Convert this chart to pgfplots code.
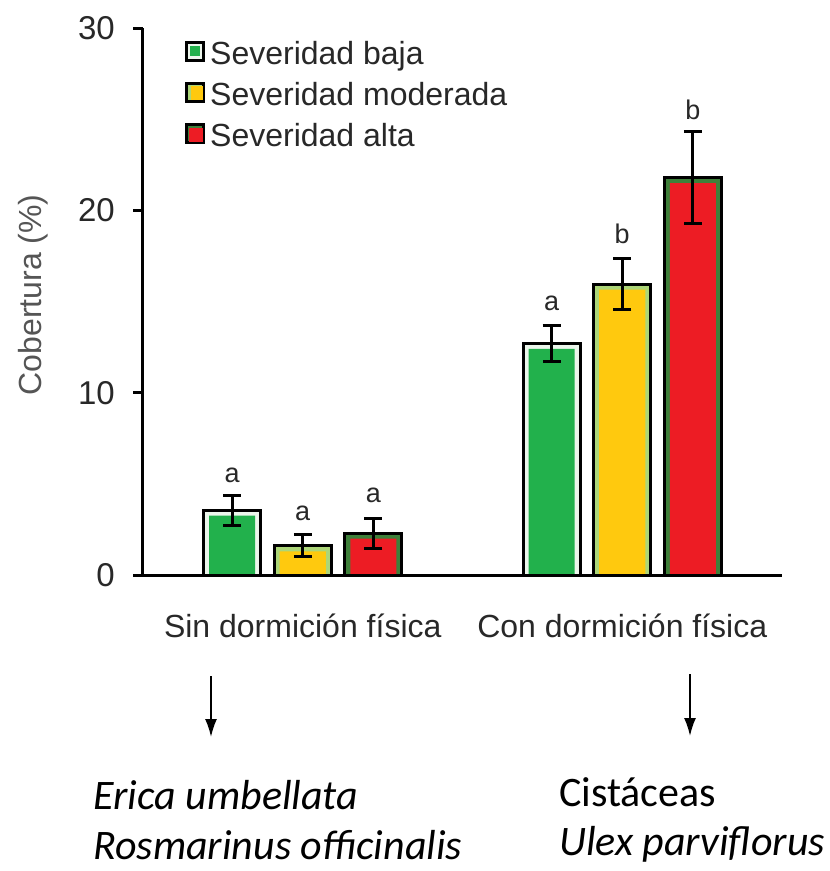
\documentclass[border=0pt]{standalone}
\usepackage{fontspec}
\setmainfont{Liberation Sans}
\newfontfamily\carlito{Carlito}
\usepackage{pgfplots}
\pgfplotsset{compat=1.18}
\usetikzlibrary{arrows.meta}
\definecolor{gFill}{RGB}{34,177,76}
\definecolor{gInner}{RGB}{236,246,236}
\definecolor{yFill}{RGB}{255,201,14}
\definecolor{yInner}{RGB}{172,214,120}
\definecolor{rFill}{RGB}{237,28,36}
\definecolor{rInner}{RGB}{62,128,58}
\definecolor{txtdark}{RGB}{40,40,40}
\definecolor{txtgray}{RGB}{85,85,85}
\begin{document}
\begin{tikzpicture}
\useasboundingbox (0pt,0pt) rectangle (830pt,-871pt);
\begin{axis}[
  at={(143pt,-575pt)}, anchor=south west,
  scale only axis, width=639pt, height=547pt,
  xmin=-0.5, xmax=1.5, ymin=0, ymax=30,
  axis x line*=bottom, axis y line*=left,
  axis line style={line width=3pt, black},
  axis on top,
  xtick={0,1}, xticklabels={Sin dormición física, Con dormición física},
  xtick style={draw=none},
  ytick={0,10,20,30},
  ytick style={line width=3pt, black},
  major tick length=10pt, tick align=outside,
  /pgf/number format/assume math mode=true,
  xticklabel style={font=\fontsize{32}{38}\selectfont, anchor=base, inner sep=0pt, yshift=-52pt, text=txtdark},
  yticklabel style={font=\fontsize{33}{38}\selectfont, anchor=east, inner sep=0pt, xshift=-18pt, text=txtdark},
  ylabel={Cobertura (\%)},
  every axis y label/.style={at={(rel axis cs:-0.172,0.512)}, rotate=90, anchor=center, font=\fontsize{32}{38}\selectfont, text=txtgray},
  legend cell align=left,
  legend style={draw=none, fill=none, at={(rel axis cs:0,1)}, anchor=north west, xshift=42pt, yshift=-13pt, inner sep=0pt, row sep=11pt, font=\fontsize{32}{38}\selectfont, text=txtdark, nodes={inner sep=0pt, text height=23pt, text depth=7pt}},
]
% outer bars (with inner border colour)
\addplot[ybar, bar width=0.178, bar shift=0pt, draw=black, line width=3pt, fill=gInner,
  legend image code/.code={\draw[black, line width=3pt, fill=gInner] (1.5pt,-4.5pt) rectangle (18.5pt,13.5pt); \fill[gFill] (6pt,2pt) rectangle (13pt,9pt); \path[draw=none,fill=none] (0pt,0pt) -- (25pt,0pt);}]
  coordinates {(-0.221,3.56) (0.779,12.7)};
\addlegendentry{Severidad baja}
\addplot[ybar, bar width=0.178, bar shift=0pt, draw=black, line width=3pt, fill=yInner,
  legend image code/.code={\draw[black, line width=3pt, fill=yInner] (1.5pt,-4.5pt) rectangle (18.5pt,13.5pt); \fill[yFill] (7pt,-1pt) rectangle (16pt,10pt); \path[draw=none,fill=none] (0pt,0pt) -- (25pt,0pt);}]
  coordinates {(0,1.6) (1,15.95)};
\addlegendentry{Severidad moderada}
\addplot[ybar, bar width=0.178, bar shift=0pt, draw=black, line width=3pt, fill=rInner,
  legend image code/.code={\draw[black, line width=3pt, fill=rInner] (1.5pt,-4.5pt) rectangle (18.5pt,13.5pt); \fill[rFill] (5pt,-2pt) rectangle (16pt,9pt); \path[draw=none,fill=none] (0pt,0pt) -- (25pt,0pt);}]
  coordinates {(0.221,2.3) (1.221,21.8)};
\addlegendentry{Severidad alta}
% inner fills
\addplot[ybar, forget plot, bar width=0.144, bar shift=0pt, draw=none, fill=gFill, yshift=-5.5pt]
  coordinates {(-0.221,3.56) (0.779,12.7)};
\addplot[ybar, forget plot, bar width=0.144, bar shift=0pt, draw=none, fill=yFill, yshift=-5.5pt]
  coordinates {(0,1.6) (1,15.95)};
\addplot[ybar, forget plot, bar width=0.144, bar shift=0pt, draw=none, fill=rFill, yshift=-5.5pt]
  coordinates {(0.221,2.3) (1.221,21.8)};
% error bars
\addplot[forget plot, draw=none, mark=none,
  error bars/.cd, y dir=both, y explicit,
  error bar style={draw=black, line width=3pt},
  error mark options={rotate=90, mark size=9pt, line width=3pt, draw=black}]
  coordinates {
    (-0.221,3.56) +- (0,0.82)
    (0,1.6) +- (0,0.6)
    (0.221,2.3) +- (0,0.82)
    (0.779,12.7) +- (0,1.0)
    (1,15.95) +- (0,1.4)
    (1.221,21.8) +- (0,2.5)
  };
% significance letters
\begin{scope}[every node/.style={anchor=base, inner sep=0pt, font=\fontsize{27}{32}\selectfont, text=txtdark}]
\node at (axis cs:-0.221,5.10) {a};
\node at (axis cs:0,3.01) {a};
\node at (axis cs:0.221,3.95) {a};
\node at (axis cs:0.779,14.52) {a};
\node at (axis cs:1,18.19) {b};
\node at (axis cs:1.221,24.99) {b};
\end{scope}
\end{axis}
\draw[-{Latex[length=18pt,width=12pt]}, line width=1.8pt] (211pt,-676pt) -- (211pt,-737pt);
\draw[-{Latex[length=18pt,width=12pt]}, line width=1.8pt] (690pt,-674pt) -- (690pt,-736pt);
\begin{scope}[every node/.style={anchor=base west, inner sep=0pt, font=\carlito\fontsize{42}{50}\selectfont}]
\node at (93pt,-809pt) {\itshape Erica umbellata};
\node at (93pt,-859pt) {\itshape Rosmarinus officinalis};
\node at (559pt,-806pt) {Cistáceas};
\node at (559pt,-855pt) {\itshape Ulex parviflorus};
\end{scope}
\end{tikzpicture}
\end{document}
